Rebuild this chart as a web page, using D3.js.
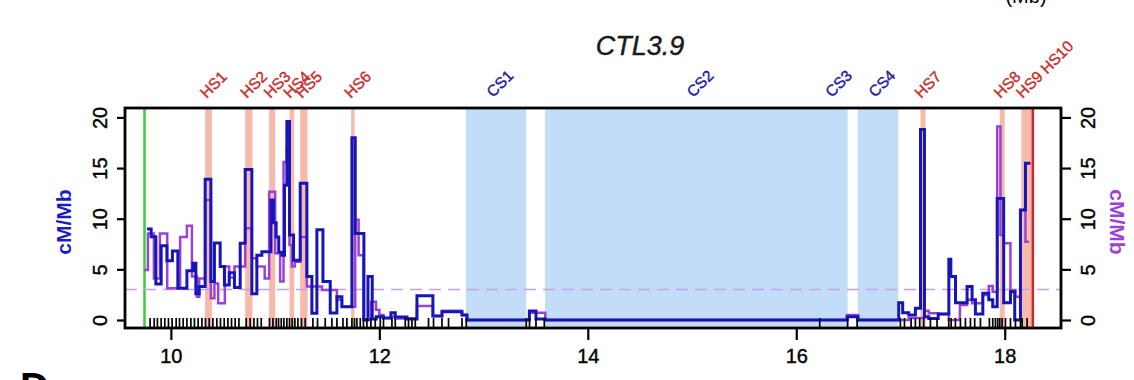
<!DOCTYPE html>
<html>
<head>
<meta charset="utf-8">
<script src="https://cdn.jsdelivr.net/npm/d3@7"></script>
<style>
body { margin: 0; background: #fff; }
svg { display: block; font-family: "Liberation Sans", Arial, Helvetica, sans-serif; }
</style>
</head>
<body>
<svg width="1134" height="380"></svg>
<script>
// step breakpoints (Mb), one more than the values (cM/Mb)
var blueX = [9.770, 9.811, 9.856, 9.907, 9.962, 10.015, 10.067, 10.154, 10.211, 10.240,
  10.272, 10.329, 10.384, 10.418, 10.473, 10.514, 10.560, 10.610, 10.665, 10.713,
  10.777, 10.825, 10.873, 10.960, 10.985, 11.010, 11.035, 11.065, 11.090, 11.113,
  11.138, 11.177, 11.241, 11.305, 11.353, 11.401, 11.459, 11.529, 11.593, 11.641,
  11.737, 11.769, 11.852, 11.891, 11.932, 11.970, 12.040, 12.111, 12.153, 12.265,
  12.361, 12.514, 12.601, 12.793, 12.841, 13.439, 13.503, 13.592, 16.488, 16.593,
  16.983, 17.021, 17.079, 17.143, 17.192, 17.230, 17.271, 17.362, 17.464, 17.483,
  17.528, 17.639, 17.687, 17.719, 17.790, 17.847, 17.885, 17.928, 17.990, 18.055,
  18.096, 18.151, 18.199, 18.247];
var blueY = [8.98, 8.22, 3.55, 7.34, 5.86, 6.81, 3.13, 4.87, 5.6, 2.6,
  3.3, 13.9, 3.8, 7.6, 5.27, 3.45, 4.67, 3.22, 7.57, 14.87,
  2.6, 6.4, 6.74, 11.85, 9.6, 8.2, 6.7, 6.4, 13.3, 19.6,
  8.4, 5.9, 13.5, 4.3, 0.66, 8.9, 3.8, 0.7, 2.3, 1.3,
  18.0, 8.55, 0.0, 4.3, 0.1, 0.33, 0.2, 0.72, 0.3, 0.1,
  2.4, 0.4, 0.82, 0.5, 0.0, 0.89, 0.1, 0.0, 0.33, 0.0,
  1.7, 0.72, 0.5, 1.15, 18.8, 0.33, 0.16, 0.6, 6.0, 4.3,
  1.7, 3.3, 2.0, 0.6, 2.63, 2.0, 1.3, 12.0, 1.7, 2.8,
  0.0, 10.86, 15.47];

var purpleX = [9.745, 9.780, 9.837, 9.895, 9.965, 10.089, 10.154, 10.202, 10.250, 10.272,
  10.329, 10.384, 10.418, 10.454, 10.518, 10.560, 10.610, 10.713, 10.777, 10.825,
  10.900, 10.943, 11.001, 11.048, 11.081, 11.113, 11.138, 11.160, 11.190, 11.241,
  11.305, 11.450, 11.593, 11.641, 11.769, 11.801, 11.848, 11.919, 11.968, 12.000,
  12.040, 12.111, 12.153, 12.361, 12.514, 12.601, 12.793, 12.841, 13.439, 13.592,
  16.488, 16.593, 17.079, 17.230, 17.271, 17.362, 17.464, 17.570, 17.639, 17.687,
  17.790, 17.847, 17.885, 17.928, 17.959, 17.990, 18.055, 18.103, 18.151, 18.199,
  18.232];
var purpleY = [4.93, 8.55, 4.1, 8.55, 3.13, 8.2, 9.3, 4.3, 2.3, 4.1,
  11.85, 2.14, 3.6, 1.65, 5.27, 4.2, 5.27, 9.05, 6.1, 5.27,
  4.1, 12.67, 6.58, 3.8, 15.6, 17.1, 7.4, 5.27, 5.76, 8.2,
  3.3, 2.96, 2.0, 1.3, 9.9, 6.4, 0.05, 1.8, 1.0, 0.5,
  0.2, 0.33, 0.16, 1.38, 0.4, 0.92, 0.5, 0.0, 0.72, 0.0,
  0.5, 0.0, 0.2, 0.92, 0.66, 0.6, 0.0, 1.48, 2.0, 1.65,
  2.47, 3.36, 2.8, 19.1, 8.4, 7.57, 2.96, 2.3, 10.86, 7.73];

// marker positions (Mb)
var markers = [9.801, 9.840, 9.871, 9.907, 9.942, 9.977, 10.012, 10.051, 10.083, 10.118,
  10.154, 10.192, 10.226, 10.262, 10.298, 10.332, 10.368, 10.403, 10.441, 10.476,
  10.512, 10.547, 10.582, 10.617, 10.653, 10.723, 10.761, 10.797, 10.831, 10.867,
  10.946, 10.979, 11.011, 11.033, 11.059, 11.084, 11.113, 11.138, 11.164, 11.190,
  11.219, 11.253, 11.289, 11.363, 11.407, 11.481, 11.545, 11.593, 11.651, 11.689,
  11.737, 11.762, 11.785, 11.817, 11.848, 11.881, 11.919, 11.961, 12.009, 12.040,
  12.121, 12.153, 12.249, 12.280, 12.313, 12.345, 12.472, 12.520, 12.601, 12.664,
  12.793, 12.834, 13.410, 13.441, 13.503, 13.583, 16.225, 16.493, 16.584, 16.999,
  17.038, 17.102, 17.143, 17.184, 17.223, 17.287, 17.351, 17.463, 17.486, 17.527,
  17.575, 17.623, 17.671, 17.712, 17.767, 17.853, 17.885, 17.911, 17.933, 17.952,
  17.975, 18.007, 18.055, 18.103, 18.151, 18.167, 18.215];

// hotspots (HS) and cold spots (CS)
var hsFrom = [10.329, 10.713, 10.943, 11.138, 11.241, 11.730, 17.192, 17.952, 18.160, 18.215];
var hsTo = [10.393, 10.783, 11.001, 11.183, 11.311, 11.762, 17.240, 18.000, 18.215, 18.278];
var hsLabels = ["HS1", "HS2", "HS3", "HS4", "HS5", "HS6", "HS7", "HS8", "HS9 HS10"];
var hsLabelAt = [10.361, 10.748, 10.972, 11.160, 11.276, 11.746, 17.216, 17.976, 18.19];

var csFrom = [12.83, 13.59, 16.23, 16.59];
var csTo = [13.41, 16.49, 16.49, 16.98];
var csLabels = ["CS1", "CS2", "CS3", "CS4"];
var csLabelAt = [13.12, 15.04, 16.37, 16.785];

var startPos = 9.747, endPos = 18.27;
var xTicks = [10, 12, 14, 16, 18];
var yTicks = [0, 5, 10, 15, 20];
var threshold = 3;

var svg = d3.select("svg"),
    box = { left: 125, right: 1061, top: 108, bottom: 328 };

var x = d3.scaleLinear().domain([9.56, 18.54]).range([box.left, box.right]);
var y = d3.scaleLinear().domain([-0.79, 20.93]).range([box.bottom, box.top]);

function steps(xs, ys) {
  var pts = ys.map(function (v, i) { return [xs[i], v]; });
  pts.push([xs[xs.length - 1], ys[ys.length - 1]]);
  return pts;
}

var line = d3.line()
  .x(function (d) { return x(d[0]); })
  .y(function (d) { return y(d[1]); })
  .curve(d3.curveStepAfter);

// shaded regions
svg.selectAll(".cs").data(csFrom).enter().append("rect")
  .attr("x", function (d) { return x(d); })
  .attr("width", function (d, i) { return x(csTo[i]) - x(d); })
  .attr("y", box.top).attr("height", box.bottom - box.top)
  .attr("fill", "#c3dcf7");

svg.selectAll(".hs").data(hsFrom).enter().append("rect")
  .attr("x", function (d) { return x(d); })
  .attr("width", function (d, i) { return x(hsTo[i]) - x(d); })
  .attr("y", box.top).attr("height", box.bottom - box.top)
  .attr("fill", "#f6b9aa");

// start / end lines
svg.append("line").attr("x1", x(startPos)).attr("x2", x(startPos))
  .attr("y1", box.top).attr("y2", box.bottom)
  .attr("stroke", "#3ccc3c").attr("stroke-width", 2.5);
svg.append("line").attr("x1", x(endPos)).attr("x2", x(endPos))
  .attr("y1", box.top).attr("y2", box.bottom)
  .attr("stroke", "#d42626").attr("stroke-width", 2.5);

// threshold
svg.append("line").attr("x1", box.left).attr("x2", box.right)
  .attr("y1", y(threshold)).attr("y2", y(threshold))
  .attr("stroke", "#c79ee8").attr("stroke-width", 1.5)
  .attr("stroke-dasharray", "12,7");

// rates
svg.append("path").datum(steps(purpleX, purpleY)).attr("d", line)
  .attr("fill", "none").attr("stroke", "#9a42d6").attr("stroke-width", 2.5);
svg.append("path").datum(steps(blueX, blueY)).attr("d", line)
  .attr("fill", "none").attr("stroke", "#1616b8").attr("stroke-width", 3);

// marker rug
svg.selectAll(".rug").data(markers).enter().append("line")
  .attr("x1", function (d) { return x(d); }).attr("x2", function (d) { return x(d); })
  .attr("y1", box.bottom - 10).attr("y2", box.bottom)
  .attr("stroke", "#000").attr("stroke-width", 1.7);

// box
svg.append("rect").attr("x", box.left).attr("y", box.top)
  .attr("width", box.right - box.left).attr("height", box.bottom - box.top)
  .attr("fill", "none").attr("stroke", "#000").attr("stroke-width", 2.8);

// axes
var gx = svg.append("g").attr("transform", "translate(0," + box.bottom + ")")
  .call(d3.axisBottom(x).tickValues(xTicks).tickSize(12).tickPadding(9));
var gl = svg.append("g").attr("transform", "translate(" + box.left + ",0)")
  .call(d3.axisLeft(y).tickValues(yTicks).tickSize(8));
var gr = svg.append("g").attr("transform", "translate(" + box.right + ",0)")
  .call(d3.axisRight(y).tickValues(yTicks).tickSize(10));

[gx, gl, gr].forEach(function (g) {
  g.select(".domain").remove();
  g.selectAll("line").attr("stroke", "#000").attr("stroke-width", 2.2);
  g.selectAll("text").attr("fill", "#000").attr("stroke", "#000").attr("stroke-width", 0.4)
    .style("font-size", "20px")
    .style("font-family", "'Liberation Sans', Arial, sans-serif");
});
gl.selectAll("text").attr("x", null).attr("dy", null)
  .attr("text-anchor", "middle").attr("transform", "translate(-18,0) rotate(-90)");
gr.selectAll("text").attr("x", null).attr("dy", null)
  .attr("text-anchor", "middle").attr("transform", "translate(34,0) rotate(-90)");

// axis titles
svg.append("text").attr("transform", "translate(71,222) rotate(-90)")
  .attr("text-anchor", "middle").attr("fill", "#1c1cc2")
  .style("font-size", "21px").style("font-weight", "bold").text("cM/Mb");
svg.append("text").attr("transform", "translate(1110,222) rotate(90)")
  .attr("text-anchor", "middle").attr("fill", "#9a42d6")
  .style("font-size", "21px").style("font-weight", "bold").text("cM/Mb");

// region labels
svg.selectAll(".hsl").data(hsLabels).enter().append("text")
  .attr("transform", function (d, i) { return "translate(" + (x(hsLabelAt[i]) - 2) + ",99) rotate(-45)"; })
  .attr("fill", "#c4302c").attr("stroke", "#c4302c").attr("stroke-width", 0.4)
  .style("font-size", "15.5px").text(function (d) { return d; });
svg.selectAll(".csl").data(csLabels).enter().append("text")
  .attr("transform", function (d, i) { return "translate(" + (x(csLabelAt[i]) - 3) + ",98) rotate(-45)"; })
  .attr("fill", "#1d1d9e").attr("stroke", "#1d1d9e").attr("stroke-width", 0.4)
  .style("font-size", "15.5px").text(function (d) { return d; });

// title
svg.append("text").attr("x", 640).attr("y", 55).attr("text-anchor", "middle")
  .attr("fill", "#1a1a1a").attr("stroke", "#1a1a1a").attr("stroke-width", 0.4)
  .style("font-size", "27px").style("font-style", "italic")
  .text("CTL3.9");

// cut-off bits of neighbouring panels
svg.append("text").attr("x", 1026).attr("y", 3).attr("text-anchor", "middle")
  .style("font-size", "20px").text("(Mb)");
svg.append("text").attr("x", 20).attr("y", 401)
  .style("font-size", "40px").style("font-weight", "bold").text("D");
</script>
</body>
</html>
